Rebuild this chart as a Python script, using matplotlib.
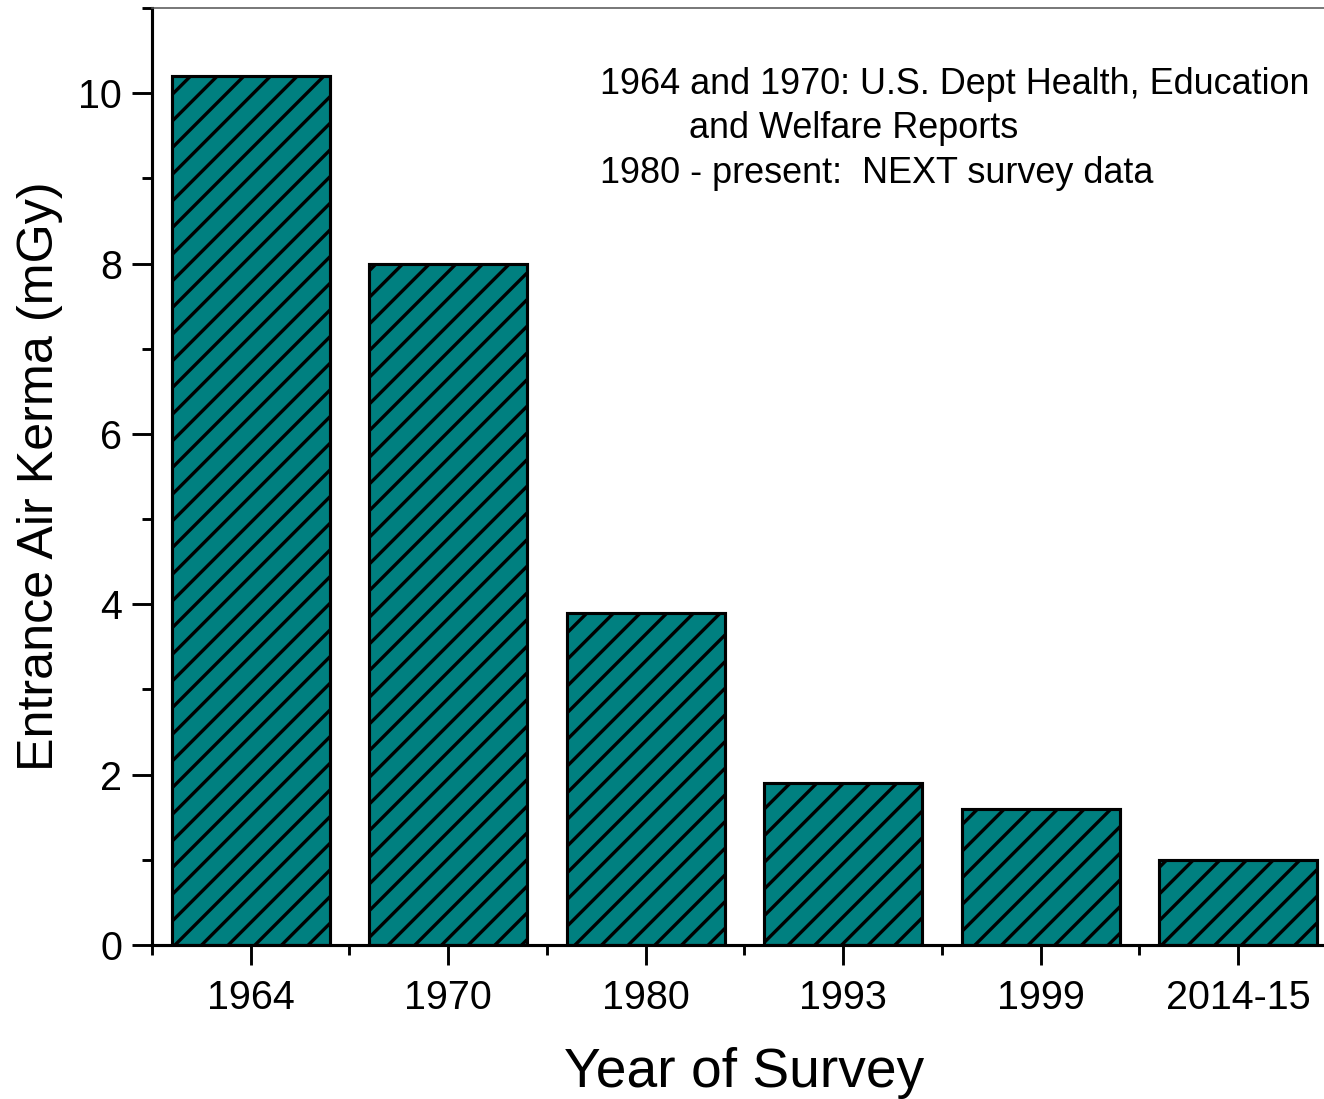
import matplotlib
matplotlib.use("Agg")
import matplotlib.pyplot as plt
from matplotlib.ticker import FixedLocator

years = ["1964", "1970", "1980", "1993", "1999", "2014-15"]
kerma = [10.2, 8.0, 3.9, 1.9, 1.6, 1.0]
y_major = [0, 2, 4, 6, 8, 10]
y_minor = [1, 3, 5, 7, 9, 11]

DPI = 160
plt.rcParams["font.family"] = ["Liberation Sans", "DejaVu Sans"]
plt.rcParams["hatch.linewidth"] = 1.5
plt.rcParams["hatch.color"] = "black"

fig = plt.figure(figsize=(1324 / DPI, 1099 / DPI), dpi=DPI)
# axes runs past the right edge of the figure, like the original
ax = fig.add_axes([0.1148, 0.1401, 0.895, 0.8526])

x = list(range(len(years)))
ax.bar(x, kerma, width=0.8, color="#008080", edgecolor="black",
       linewidth=1.4, hatch="//", zorder=2)

ax.set_xlim(-0.5, 5.5)
ax.set_ylim(0, 11)
ax.set_xticks(x)
ax.set_xticklabels(years)
ax.xaxis.set_minor_locator(FixedLocator([i - 0.5 for i in range(len(years) + 1)]))
ax.set_yticks(y_major)
ax.yaxis.set_minor_locator(FixedLocator(y_minor))

ax.tick_params(which="major", direction="out", length=9, width=1.3,
               labelsize=17.8, pad=4.5)
ax.tick_params(axis="x", which="major", pad=6.5)
ax.tick_params(which="minor", direction="out", length=4.5, width=1.3)

for side in ("left", "bottom"):
    ax.spines[side].set_linewidth(1.4)
ax.spines["top"].set_linewidth(0.7)
ax.spines["top"].set_color("#555555")
ax.spines["right"].set_visible(False)

ax.set_ylabel("Entrance Air Kerma (mGy)", fontsize=22.6, labelpad=7)
ax.set_xlabel("Year of Survey", fontsize=24.8, labelpad=13.5)

# source note, top right
note_fs = 16.2
fig.text(600 / 1324, 1 - 84 / 1099, "1964 and 1970: U.S. Dept Health, Education",
         fontsize=note_fs, va="center", ha="left")
fig.text(689 / 1324, 1 - 129 / 1099, "and Welfare Reports",
         fontsize=note_fs, va="center", ha="left")
fig.text(600 / 1324, 1 - 173 / 1099, "1980 - present:  NEXT survey data",
         fontsize=note_fs, va="center", ha="left")

fig.savefig("out.png", dpi=DPI)
